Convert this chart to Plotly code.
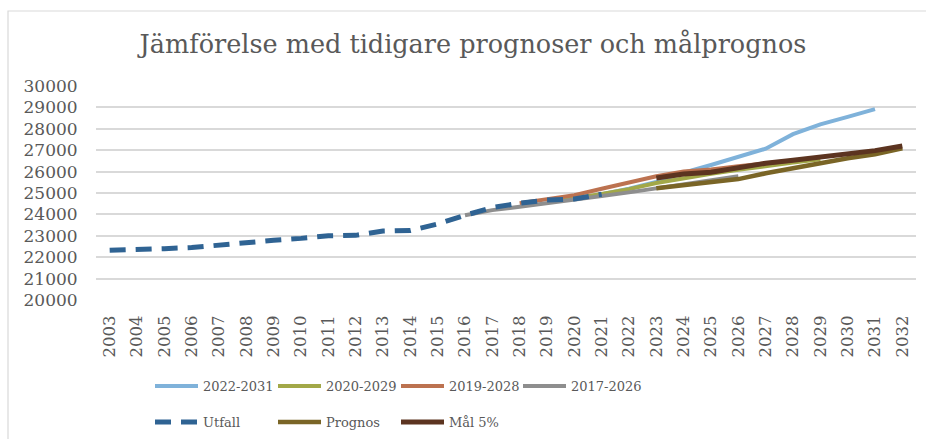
import plotly.graph_objects as go

years = [str(y) for y in range(2003, 2033)]

# Utfall 2003-2021
utfall = [22320, 22340, 22400, 22450, 22570, 22710, 22790, 22880, 23000, 23020,
          23220, 23250, 23550, 23960, 24320, 24520, 24670, 24720, 24940]
# 2022-2031 forecast (base year 2021)
p2022_years = [str(y) for y in range(2021, 2032)]
p2022 = [24940, 25200, 25520, 25950, 26310, 26670, 27070, 27750, 28210, 28560, 28920]
# 2020-2029 forecast (base year 2019)
p2020_years = [str(y) for y in range(2019, 2030)]
p2020 = [24670, 24750, 24950, 25180, 25470, 25700, 25900, 26080, 26270, 26420, 26580]
# 2019-2028 forecast (base year 2018)
p2019_years = [str(y) for y in range(2018, 2029)]
p2019 = [24520, 24700, 24900, 25200, 25500, 25780, 26000, 26100, 26250, 26400, 26520]
# 2017-2026 forecast (base year 2016)
p2017_years = [str(y) for y in range(2016, 2027)]
p2017 = [23960, 24200, 24360, 24540, 24700, 24860, 25030, 25220, 25400, 25580, 25780]
# Prognos 2023-2032
prog_years = [str(y) for y in range(2023, 2033)]
prognos = [25220, 25370, 25480, 25650, 25920, 26170, 26420, 26620, 26810, 27090]
# Mål 5% 2023-2032
mal = [25700, 25890, 25970, 26200, 26390, 26530, 26670, 26820, 26980, 27200]

yticks = list(range(20000, 30001, 1000))

FONT = "DejaVu Serif"
GREY_TXT = "#595959"

L, R, T, B = 96, 10, 86, 139
W, H = 926, 439
pw = W - L - R
ph = H - T - B

def px_x(p):
    return (p - L) / pw

def px_y(p):
    return (H - B - p) / ph

fig = go.Figure()

# name, x, y, colour, width, dash, legend column px, legend row px
series = [
    ("2022-2031", p2022_years, p2022, "#7FB2DA", 4, "solid", 150, 371),
    ("2020-2029", p2020_years, p2020, "#A2A848", 4, "solid", 273, 371),
    ("2019-2028", p2019_years, p2019, "#BC7250", 4, "solid", 396, 371),
    ("2017-2026", p2017_years, p2017, "#8E8E8E", 4, "solid", 518, 371),
    ("Utfall", years[:len(utfall)], utfall, "#2F6393", 5, "16px,10px", 150, 407),
    ("Prognos", prog_years, prognos, "#7A6526", 4.5, "solid", 273, 407),
    ("Mål 5%", prog_years, mal, "#5C3420", 5, "solid", 396, 407),
]
legends = {}
for i, (name, xs, ys, col, w, dash, lx, ly) in enumerate(series):
    key = "legend" if i == 0 else f"legend{i + 1}"
    fig.add_trace(go.Scatter(x=xs, y=ys, name=name, mode="lines",
                             line=dict(color=col, width=w, dash=dash),
                             legend=key, showlegend=True))
    legends[key] = dict(orientation="h", x=px_x(lx), xanchor="left",
                        y=px_y(ly), yanchor="top",
                        font=dict(family=FONT, size=13, color=GREY_TXT),
                        itemwidth=43, bgcolor="rgba(0,0,0,0)")

fig.update_layout(
    width=W, height=H,
    showlegend=True,
    margin=dict(l=L, r=R, t=T, b=B, autoexpand=False),
    paper_bgcolor="white", plot_bgcolor="white",
    font=dict(family=FONT, color=GREY_TXT),
    title=dict(text="Jämförelse med tidigare prognoser och målprognos",
               x=473 / W, xref="container", xanchor="center",
               y=1 - 44 / H, yref="container", yanchor="middle",
               font=dict(family=FONT, size=25.5, color=GREY_TXT)),
    xaxis=dict(type="category", categoryorder="array", categoryarray=years,
               range=[-0.5, len(years) - 0.5],
               tickmode="array", tickvals=years, ticktext=years,
               tickangle=-90, tickfont=dict(family=FONT, size=16.5, color=GREY_TXT),
               showgrid=False, showline=False, zeroline=False,
               ticks="outside", ticklen=8, tickcolor="rgba(0,0,0,0)"),
    yaxis=dict(range=[20000, 30000], tickmode="array", tickvals=yticks,
               ticktext=[str(v) for v in yticks],
               tickfont=dict(family=FONT, size=17, color=GREY_TXT),
               showgrid=True, gridcolor="#D9D9D9", gridwidth=1.5,
               zeroline=False, showline=False,
               ticks="outside", ticklen=14, tickcolor="rgba(0,0,0,0)"),
    shapes=[dict(type="rect", xref="paper", yref="paper",
                 x0=px_x(8), x1=px_x(945), y0=px_y(460), y1=px_y(11),
                 line=dict(color="#D9D9D9", width=1.2), fillcolor="rgba(0,0,0,0)",
                 layer="below")],
    **legends,
)

fig.write_html("out.html", config={"displayModeBar": False},
               post_script="document.body.style.margin='0px';document.body.style.overflow='hidden';")
